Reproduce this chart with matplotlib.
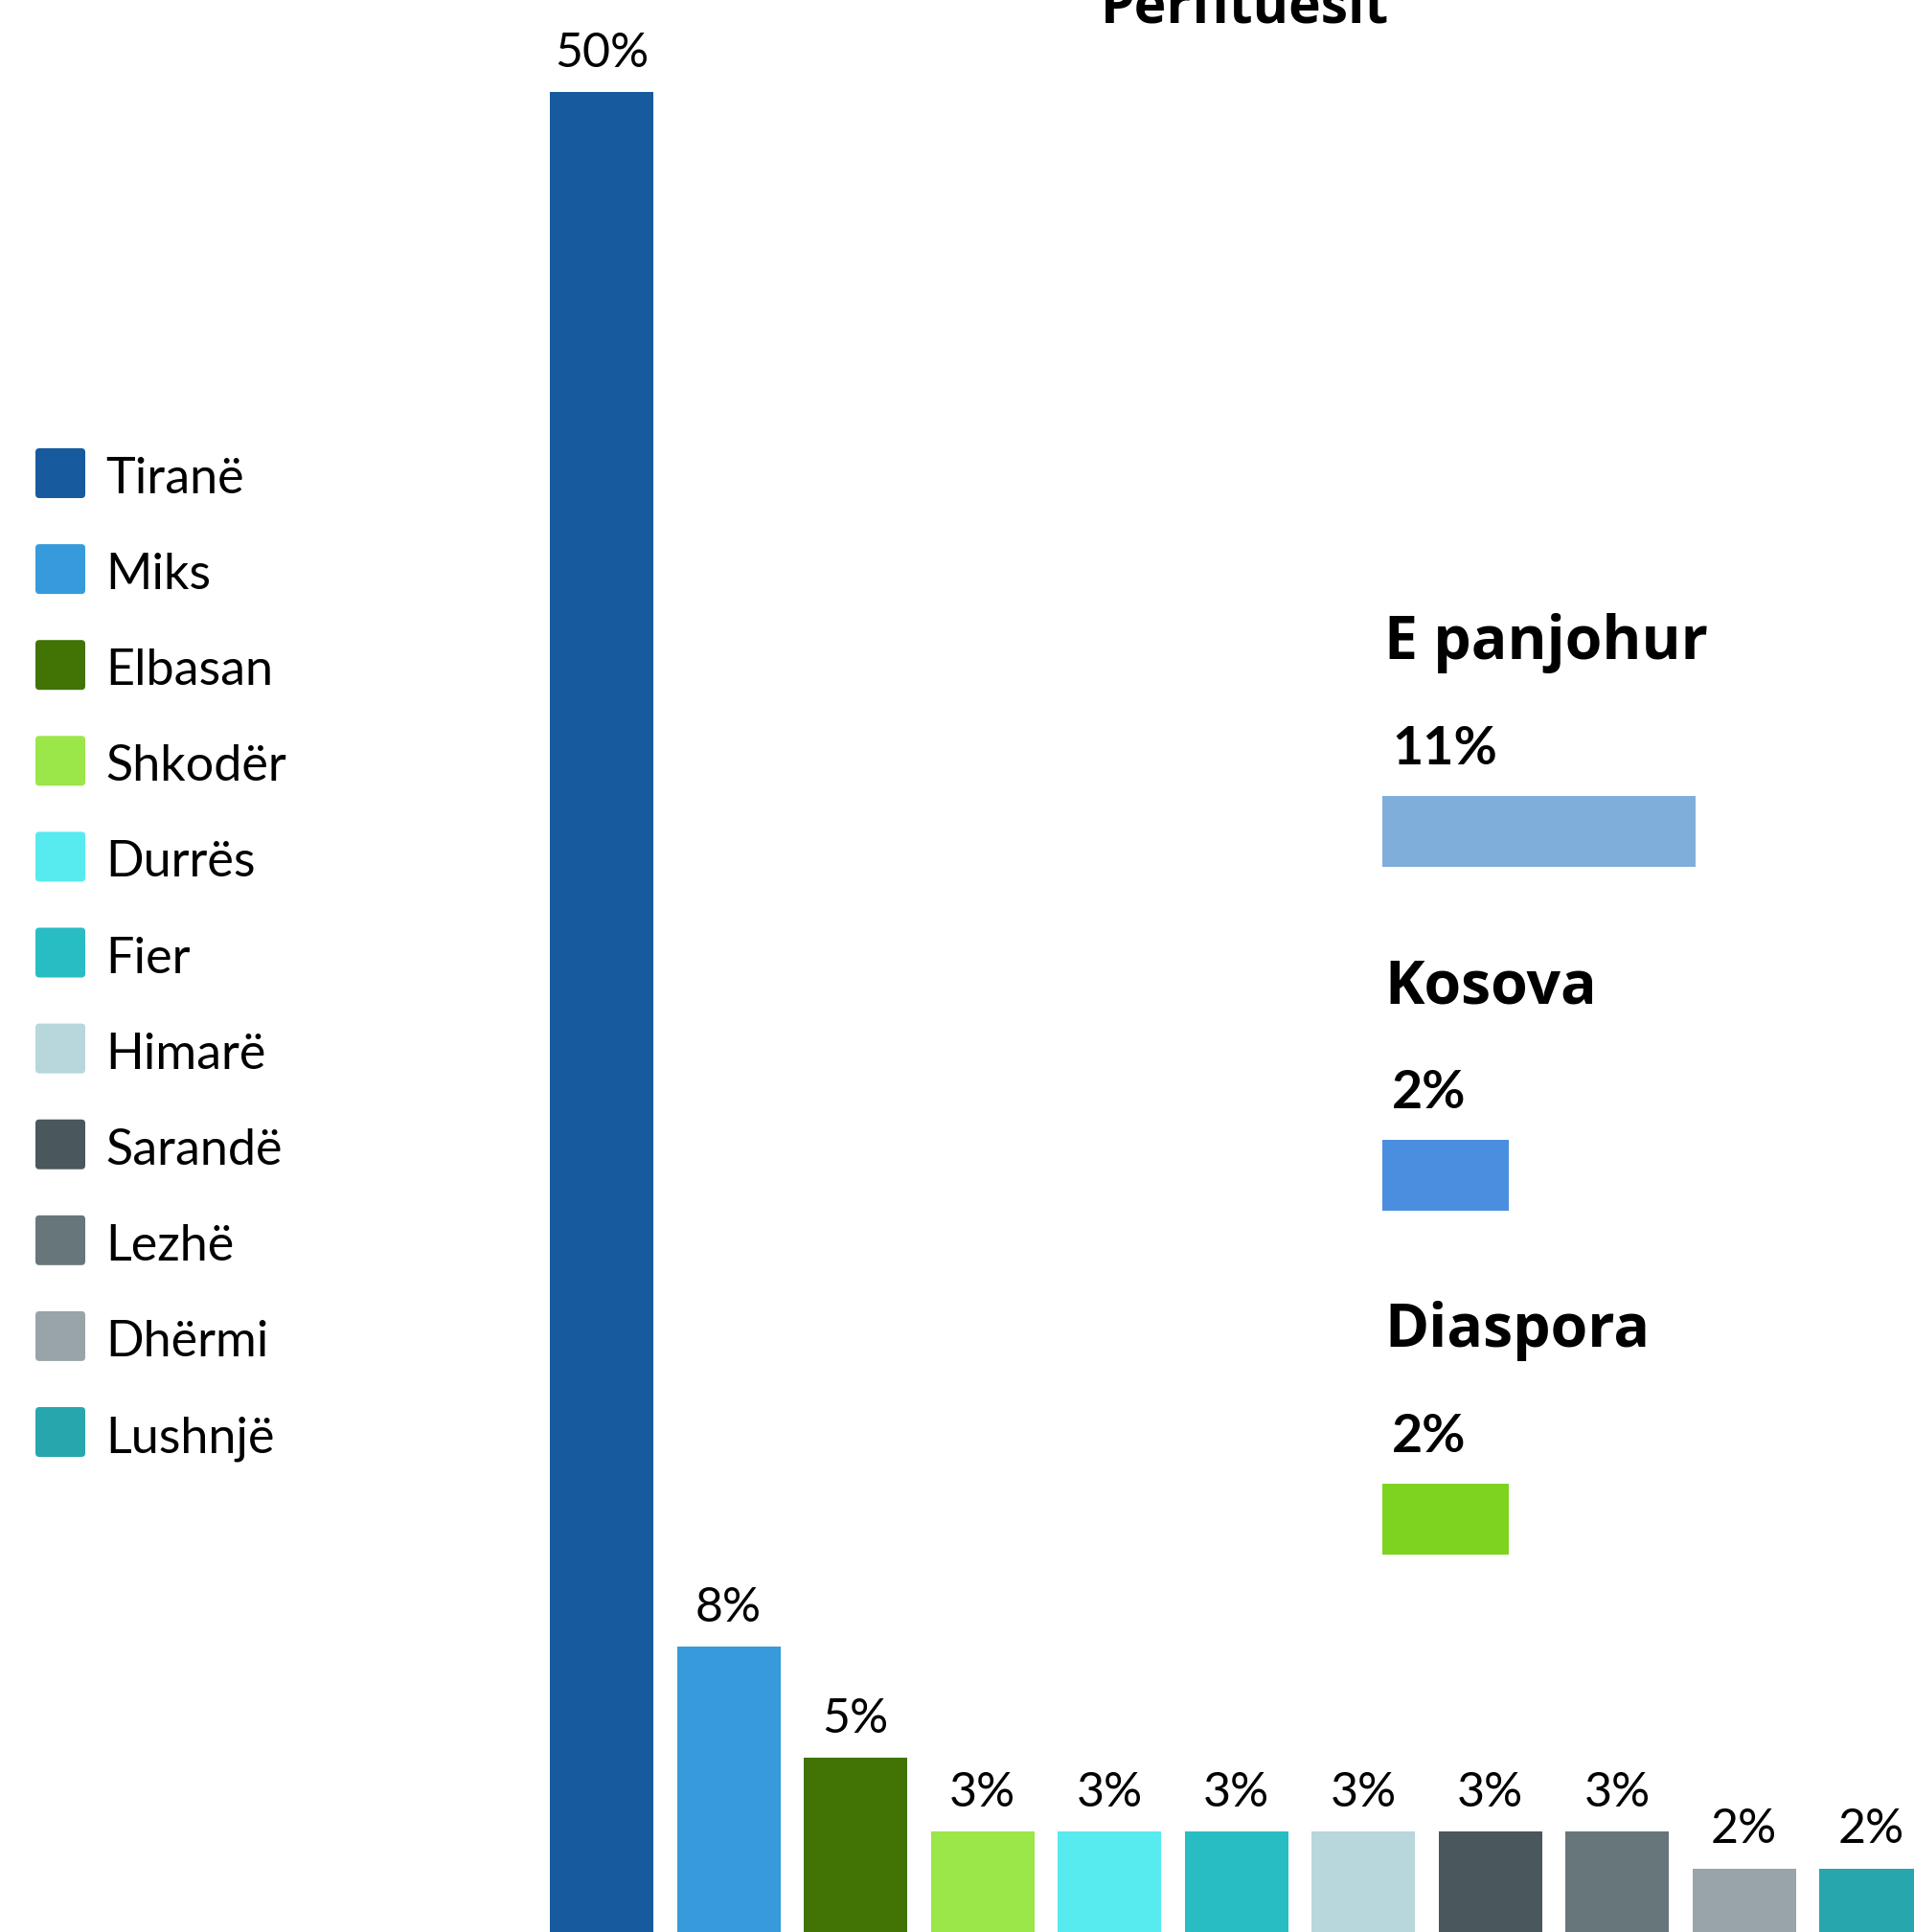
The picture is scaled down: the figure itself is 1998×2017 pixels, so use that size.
import numpy as np
import matplotlib
matplotlib.use('Agg')
import matplotlib.pyplot as plt
from matplotlib.patches import FancyBboxPatch

# main bars (percent of beneficiaries by city)
cities = ['Tiranë', 'Miks', 'Elbasan', 'Shkodër', 'Durrës', 'Fier',
          'Himarë', 'Sarandë', 'Lezhë', 'Dhërmi', 'Lushnjë']
shares = [50, 8, 5, 3, 3, 3, 3, 3, 3, 2, 2]
city_colors = ['#175a9e', '#379bdb', '#417305', '#9be648', '#57eaef', '#27bdc3',
               '#b7d7dc', '#4a575c', '#67767a', '#98a4a8', '#27a7ad']

# side panel
side_names = ['E panjohur', 'Kosova', 'Diaspora']
side_shares = [11, 2, 2]
side_colors = ['#80aeda', '#4a8ee0', '#7ed321']

title = 'Përfituesit'

W, H = 1998, 2017
fig = plt.figure(figsize=[W/100, H/100], dpi=100)

# main bar axes spans the whole figure, bars run off the bottom/right edges
ax = fig.add_axes([0, 0, 1, 1])
px_per_pct = 38.63
pitch = 132.5
x0 = 628.0
ax.set_xlim(-x0/pitch, (W - x0)/pitch)
ax.set_ylim(11/px_per_pct, (H + 11)/px_per_pct)
ax.axis('off')

xs = np.arange(len(cities))
ax.bar(xs, shares, width=108/pitch, color=city_colors)
for x, v in zip(xs, shares):
    ax.text(x, v + 0.68, f'{v}%', ha='center', va='baseline',
            fontsize=36, family='Lato')

# overlay in pixel coords for legend, title and side panel text
ov = fig.add_axes([0, 0, 1, 1], zorder=3)
ov.set_xlim(0, W)
ov.set_ylim(H, 0)
ov.axis('off')
ov.patch.set_alpha(0)

ov.text(1300, 23, title, ha='center', va='baseline', fontsize=41,
        fontweight='bold', family='Open Sans')

# legend
leg_y0, leg_dy, sq = 494, 100.1, 52
for i, (name, c) in enumerate(zip(cities, city_colors)):
    cy = leg_y0 + i*leg_dy
    ov.add_patch(FancyBboxPatch((37, cy - sq/2), sq, sq,
                                boxstyle='round,pad=0,rounding_size=4',
                                fc=c, ec='none'))
    ov.text(110, cy + 21, name, ha='left', va='baseline',
            fontsize=37.5, family='Lato')

# side panel: horizontal bars with a fixed stub so small values stay visible
stub = 4.1
sp_top, sp_bot = 700, 1700
row0, row_dy = 868, 359
sp = fig.add_axes([1443/W, (H - sp_bot)/H, (W - 1443)/W, (sp_bot - sp_top)/H], zorder=2)
sp.set_xlim(-stub, -stub + (W - 1443)/21.67)
sp.set_ylim((sp_bot - row0)/row_dy, (sp_top - row0)/row_dy)
yb = np.arange(len(side_names))
sp.barh(yb, np.array(side_shares) + stub, left=-stub, height=74/row_dy,
        color=side_colors)
sp.axis('off')

for i, (name, v) in enumerate(zip(side_names, side_shares)):
    cy = row0 + i*row_dy
    ov.text(1445, cy - 180, name, ha='left', va='baseline', fontsize=45,
            fontweight='bold', family='Open Sans')
    ov.text(1453, cy - 70, f'{v}%', ha='left', va='baseline', fontsize=40,
            fontweight='bold', family='Lato')

fig.savefig('out.png', dpi=100)
